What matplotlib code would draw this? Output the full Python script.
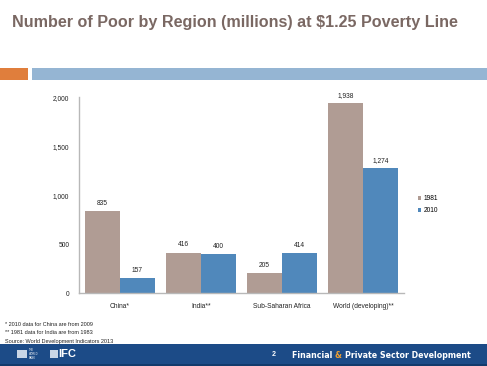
import numpy as np
import matplotlib.pyplot as plt
from matplotlib.patches import Rectangle

# data
regions = ["China*", "India**", "Sub-Saharan Africa", "World (developing)**"]
poor_1981 = [835, 416, 205, 1938]
poor_2010 = [157, 400, 414, 1274]
yticks = [0, 500, 1000, 1500, 2000]
notes = ["* 2010 data for China are from 2009",
         "** 1981 data for India are from 1983",
         "Source: World Development Indicators 2013"]

c81 = "#b09c94"
c10 = "#5088bb"
font = "Liberation Sans"

fig = plt.figure(figsize=(4.87, 3.66), dpi=100)
fig.patch.set_facecolor("white")

# title and header strips
fig.text(12/487, 1-22/366, "Number of Poor by Region (millions) at $1.25 Poverty Line",
         fontsize=11.6, fontweight="bold", color="#7a6863", family=font, va="center")
fig.patches.append(Rectangle((0, 1-80/366), 28/487, 12/366, transform=fig.transFigure,
                             facecolor="#e07e3c", edgecolor="none"))
fig.patches.append(Rectangle((32/487, 1-80/366), 455/487, 12/366, transform=fig.transFigure,
                             facecolor="#95b5d3", edgecolor="none"))

ax = fig.add_axes([79/487, 1-293.3/366, 325/487, 196/366])
x = np.arange(len(regions))
w = 0.43
b1 = ax.bar(x-w/2, poor_1981, w, color=c81, label="1981")
b2 = ax.bar(x+w/2, poor_2010, w, color=c10, label="2010")
for bars in (b1, b2):
    for r in bars:
        ax.annotate(f"{int(r.get_height()):,}", (r.get_x()+r.get_width()/2, r.get_height()),
                    xytext=(0, 3), textcoords="offset points", ha="center", va="bottom",
                    fontsize=4.8, family=font, color="#222222")
ax.set_xlim(-0.5, 3.5)
ax.set_ylim(0, 2000)
ax.set_yticks(yticks)
ax.set_yticklabels([f"{t:,}" for t in yticks])
ax.set_xticks(x)
ax.set_xticklabels(regions)
ax.tick_params(length=0, labelsize=4.8, pad=7, colors="#222222")
for lab in ax.get_xticklabels()+ax.get_yticklabels():
    lab.set_family(font)
for s in ["top", "right"]:
    ax.spines[s].set_visible(False)
for s in ["left", "bottom"]:
    ax.spines[s].set_color("#b8b8b8")
    ax.spines[s].set_linewidth(1.0)

leg = fig.legend(handles=[b1, b2], labels=["1981", "2010"], loc="upper left",
                 bbox_to_anchor=(412/487, 1-189/366), frameon=False,
                 prop={"family": font, "size": 4.8}, handlelength=0.5, handleheight=0.5,
                 handletextpad=0.4, labelspacing=0.8)

# footnotes
for i, n in enumerate(notes):
    fig.text(5/487, 1-(325+8*i)/366, n, fontsize=4.0, family=font, color="#222222", va="center")

# footer band
fig.patches.append(Rectangle((0, 0), 1, 22/366, transform=fig.transFigure,
                             facecolor="#1c4b87", edgecolor="none"))
fig.patches.append(Rectangle((0, 0), 1, 2/366, transform=fig.transFigure,
                             facecolor="#123a6c", edgecolor="none"))
fig.patches.append(Rectangle((17/487, 1-358/366), 10/487, 8/366, transform=fig.transFigure,
                             facecolor="#c9d6e6", edgecolor="none"))
fig.text(29/487, 1-354/366, "THE\nWORLD\nBANK", fontsize=1.8, color="white", va="center",
         family=font, linespacing=0.9)
fig.patches.append(Rectangle((50/487, 1-358/366), 8/487, 8/366, transform=fig.transFigure,
                             facecolor="#c9d6e6", edgecolor="none"))
fig.text(58/487, 1-354/366, "IFC", fontsize=8, fontweight="bold", color="white", va="center",
         family=font)
fig.text(272/487, 1-355/366, "2", fontsize=5, fontweight="bold", color="white", va="center",
         family=font)
fs = 5.7
t1 = fig.text(292/487, 1-355/366, "Financial ", fontsize=fs, fontweight="bold", color="white",
              va="center", family="DejaVu Sans")
fig.canvas.draw()
r = fig.canvas.get_renderer()
bb = t1.get_window_extent(r)
t2 = fig.text(bb.x1/fig.bbox.width, 1-355/366, "& ", fontsize=fs, fontweight="bold",
              color="#f0a030", va="center", family="DejaVu Sans")
bb2 = t2.get_window_extent(r)
fig.text(bb2.x1/fig.bbox.width, 1-355/366, "Private Sector Development", fontsize=fs,
         fontweight="bold", color="white", va="center", family="DejaVu Sans")

fig.savefig("out.png", dpi=100)
